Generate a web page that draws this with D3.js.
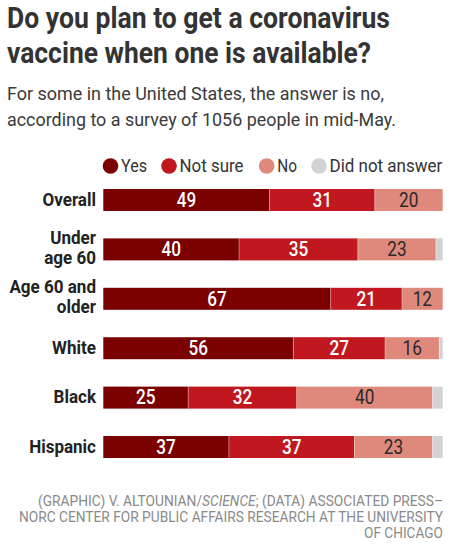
<!DOCTYPE html>
<html><head><meta charset="utf-8">
<script src="https://cdn.jsdelivr.net/npm/d3@7"></script>
<style>
html,body{margin:0;padding:0;background:#fff;}
svg{display:block;}
text{font-family:Roboto, "Noto Sans", sans-serif;}
</style></head>
<body>
<svg id="chart" width="465" height="549"></svg>
<script>
// ---- data ----
const categories = ["Overall", "Under age 60", "Age 60 and older", "White", "Black", "Hispanic"];
const categoryLines = [["Overall"], ["Under", "age 60"], ["Age 60 and", "older"], ["White"], ["Black"], ["Hispanic"]];
const seriesNames = ["Yes", "Not sure", "No", "Did not answer"];
const yesValues = [49, 40, 67, 56, 25, 37];
const notSureValues = [31, 35, 21, 27, 32, 37];
const noValues = [20, 23, 12, 16, 40, 23];
const didNotAnswerValues = [0, 2, 0, 1, 3, 3];
const colors = ["#7b0000", "#c1171f", "#df897d", "#d3d3d3"];
const labelColors = ["#ffffff", "#ffffff", "#2a2a2a", null];

const titleLines = ["Do you plan to get a coronavirus", "vaccine when one is available?"];
const subtitleLines = ["For some in the United States, the answer is no,", "according to a survey of 1056 people in mid-May."];

const svg = d3.select("#chart");

function condense(sel, factor) {
  sel.each(function () {
    const w = this.getComputedTextLength();
    d3.select(this).attr("textLength", w * factor).attr("lengthAdjust", "spacingAndGlyphs");
  });
}
function fitWidth(sel, width) {
  sel.attr("textLength", width).attr("lengthAdjust", "spacingAndGlyphs");
}

// ---- title ----
const titleWidths = [383, 364];
titleLines.forEach((t, i) => {
  const el = svg.append("text").attr("x", 7).attr("y", 28 + i * 35)
    .attr("font-size", 30).attr("font-weight", 700).attr("fill", "#333333").text(t);
  fitWidth(el, titleWidths[i]);
});
const subWidths = [377, 389];
subtitleLines.forEach((t, i) => {
  const el = svg.append("text").attr("x", 7).attr("y", 99.5 + i * 26.5)
    .attr("font-size", 18.5).attr("fill", "#3a3a3a").text(t);
  fitWidth(el, subWidths[i]);
});

// ---- scales ----
const table = categories.map((c, i) => ({
  category: c, lines: categoryLines[i],
  "Yes": yesValues[i], "Not sure": notSureValues[i], "No": noValues[i], "Did not answer": didNotAnswerValues[i]
}));
const stacked = d3.stack().keys(seriesNames)(table);

const x = d3.scaleLinear().domain([0, 100]).range([103.3, 442.7]);
const y = d3.scaleBand().domain(categories).range([189, 458]).paddingInner(0.555).paddingOuter(0);
const color = d3.scaleOrdinal().domain(seriesNames).range(colors);

// ---- legend ----
const legendCx = [110.5, 169, 266.7, 319];
const legendWidths = [26, 64, 19.7, 112.7];
const legend = svg.append("g");
seriesNames.forEach((s, i) => {
  legend.append("circle").attr("cx", legendCx[i]).attr("cy", 166).attr("r", 7.8).attr("fill", color(s));
  const t = legend.append("text").attr("x", legendCx[i] + 10.5).attr("y", 172.3)
    .attr("font-size", 19).attr("fill", "#333333").text(s);
  fitWidth(t, legendWidths[i]);
});

// ---- bars ----
const layers = svg.append("g").selectAll("g").data(stacked).join("g")
  .attr("fill", d => color(d.key));
layers.selectAll("rect").data(d => d).join("rect")
  .attr("x", d => x(d[0]))
  .attr("y", d => y(d.data.category))
  .attr("width", d => Math.max(0, x(d[1]) - x(d[0])))
  .attr("height", y.bandwidth());

// separators
stacked.slice(1).forEach(layer => {
  svg.append("g").selectAll("line").data(layer.filter(d => d[1] > d[0])).join("line")
    .attr("x1", d => x(d[0])).attr("x2", d => x(d[0]))
    .attr("y1", d => y(d.data.category)).attr("y2", d => y(d.data.category) + y.bandwidth())
    .attr("stroke", "#ffffff").attr("stroke-opacity", 0.35).attr("stroke-width", 1);
});

// value labels
stacked.forEach((layer, li) => {
  if (!labelColors[li]) return;
  const g = svg.append("g");
  const t = g.selectAll("text").data(layer).join("text")
    .attr("x", d => (x(d[0]) + x(d[1])) / 2)
    .attr("y", d => y(d.data.category) + y.bandwidth() / 2 + 6.8)
    .attr("text-anchor", "middle")
    .attr("font-size", 19.5)
    .attr("font-weight", li < 2 ? 500 : 400)
    .attr("fill", labelColors[li])
    .text(d => d[1] - d[0]);
  condense(t, 0.88);
});

// category labels
const catG = svg.append("g");
table.forEach(d => {
  const cy = y(d.category) + y.bandwidth() / 2;
  const n = d.lines.length;
  d.lines.forEach((line, j) => {
    const by = n === 1 ? cy + 5.7 : cy - 5.6 + j * 20;
    const t = catG.append("text").attr("x", 96).attr("y", by)
      .attr("text-anchor", "end").attr("font-size", 18.5).attr("font-weight", 700)
      .attr("fill", "#222222").text(line);
    condense(t, 0.92);
  });
});

// ---- footer ----
const footer = svg.append("g").attr("fill", "#8a8a8a");
const f1 = footer.append("text").attr("x", 443).attr("y", 506).attr("text-anchor", "end").attr("font-size", 13.8);
f1.append("tspan").text("(GRAPHIC) V. ALTOUNIAN/");
f1.append("tspan").attr("font-style", "italic").text("SCIENCE");
f1.append("tspan").text("; (DATA) ASSOCIATED PRESS\u2013");
fitWidth(f1, 405);
const f2 = footer.append("text").attr("x", 443).attr("y", 522).attr("text-anchor", "end").attr("font-size", 13.8)
  .text("NORC CENTER FOR PUBLIC AFFAIRS RESEARCH AT THE UNIVERSITY");
fitWidth(f2, 424);
const f3 = footer.append("text").attr("x", 443).attr("y", 538).attr("text-anchor", "end").attr("font-size", 13.8)
  .text("OF CHICAGO");
fitWidth(f3, 79);
</script>
</body></html>
